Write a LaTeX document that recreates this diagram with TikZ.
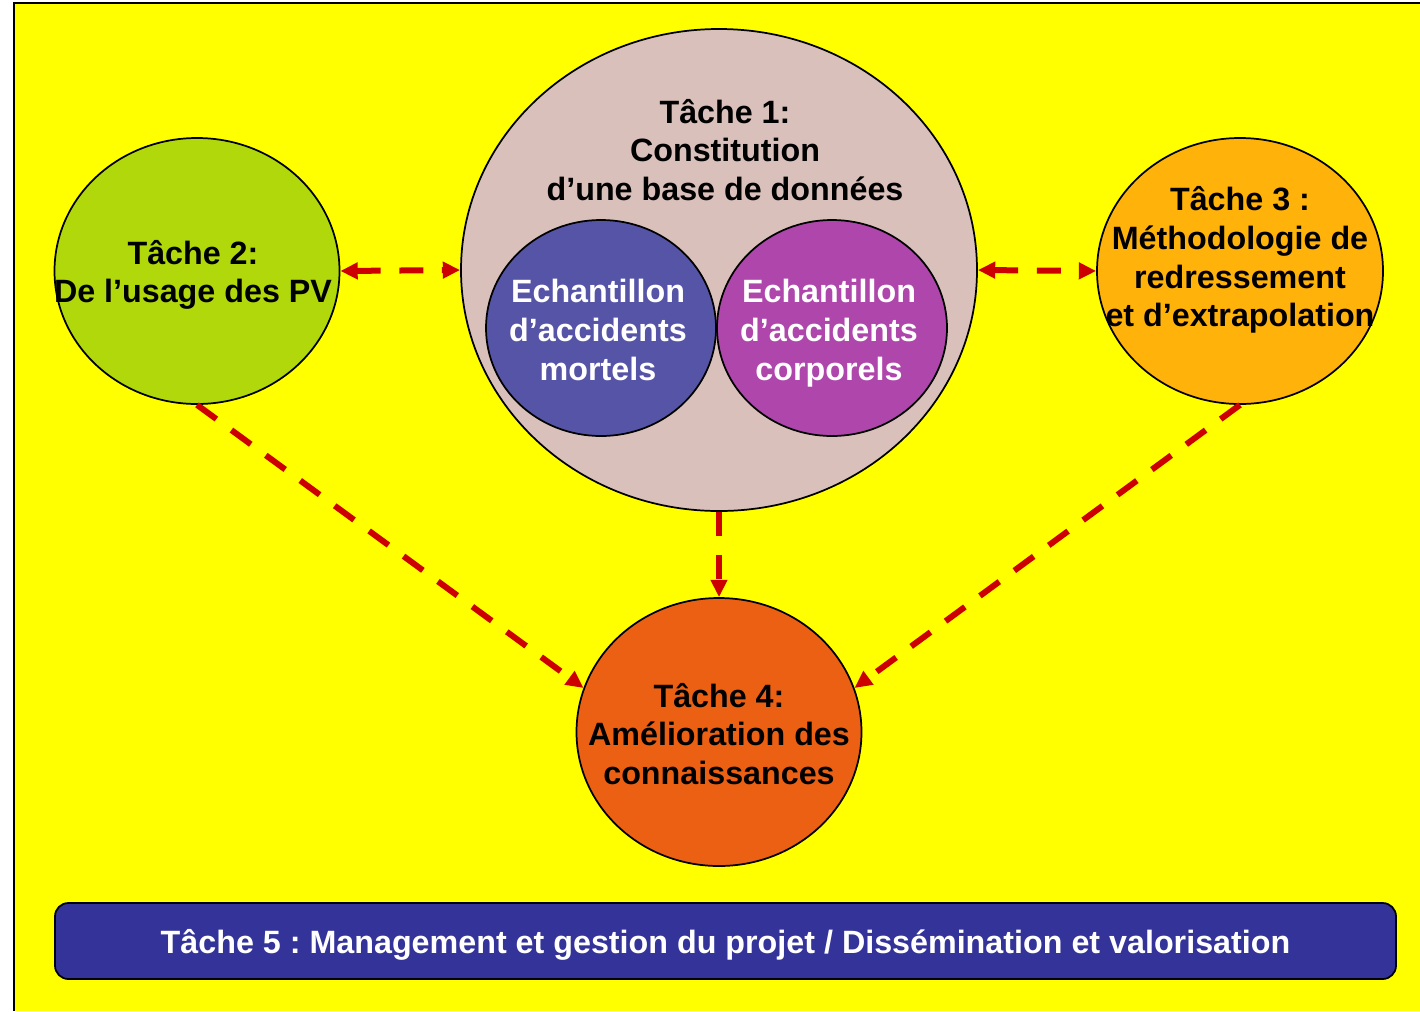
\documentclass[tikz,border=0pt]{standalone}
\usepackage{fontspec}
\setmainfont{Liberation Sans}
\frenchspacing
\usetikzlibrary{shapes.geometric,arrows.meta}

\definecolor{bgyellow}{RGB}{255,255,0}
\definecolor{tone}{RGB}{218,192,186}
\definecolor{ttwo}{RGB}{176,216,10}
\definecolor{tthree}{RGB}{255,178,10}
\definecolor{tfour}{RGB}{236,96,20}
\definecolor{mortel}{RGB}{86,84,166}
\definecolor{corporel}{RGB}{174,70,172}
\definecolor{tfive}{RGB}{51,51,153}
\definecolor{linkred}{RGB}{204,0,0}

\newcommand{\tasksize}{\fontsize{24.2}{29}\selectfont\bfseries}

\tikzset{every picture/.style={line width=0.75pt}}
\tikzset{
  task/.style={ellipse, draw=black, line width=1.3pt, inner sep=0pt},
  tasktitle/.style={inner sep=0.75pt, align=center, font=\tasksize},
  link/.style={draw=linkred, line width=4.5pt, dash pattern=on 18pt off 14pt},
}

\begin{document}
\begin{tikzpicture}[x=0.75pt,y=0.75pt,yscale=-1,xscale=1, >={Triangle[length=13pt,width=12pt]}]
\useasboundingbox (0,0) rectangle (1420,1011);

%Background frame
\fill [bgyellow] (14,3) rectangle (1420,1011);
\draw [line width=1.5pt] (1420,3) -- (14,3) -- (14,1011);

%Shape: Circle, Tache 1
\node [task, fill=tone, minimum width=387pt, minimum height=361.5pt] (t1) at (719,270) {};
% Text Node
\node [tasktitle] (t1title) at (725,150) {Tâche 1:\\Constitution\\d’une base de données};
%Shape: Circle, inner samples
\node [task, fill=mortel, minimum width=172.5pt, minimum height=162pt] (mortels) at (601,328) {};
\node [task, fill=corporel, minimum width=172.5pt, minimum height=162pt] (corporels) at (832,328) {};
% Text Node
\node [tasktitle, text=white] (mortelstext) at (598,330) {Echantillon\\d’accidents\\mortels};
\node [tasktitle, text=white] (corporelstext) at (829,333) {Echantillon\\d’accidents\\corporels};

%Shape: Circle, Tache 2
\node [task, fill=ttwo, minimum width=213.75pt, minimum height=199.5pt] (t2) at (197,271) {};
% Text Node
\node [tasktitle] (t2title) at (193,275) {Tâche 2:\\De l’usage des PV};
%Shape: Circle, Tache 3
\node [task, fill=tthree, minimum width=214.5pt, minimum height=199.5pt] (t3) at (1240,271) {};
% Text Node
\node [tasktitle] (t3title) at (1240,260) {Tâche 3 :\\Méthodologie de\\redressement\\et d’extrapolation};
%Shape: Circle, Tache 4
\node [task, fill=tfour, minimum width=213.75pt, minimum height=201pt] (t4) at (719,732) {};
% Text Node
\node [tasktitle] (t4title) at (719,734) {Tâche 4:\\Amélioration des\\connaissances};

%Rounded box, Tache 5
\node [draw=black, line width=1.3pt, rounded corners=10pt, fill=tfive, text=white, font=\tasksize, text height=24pt, text depth=5pt, minimum width=1005.75pt, minimum height=57pt] (t5) at (725.5,941) {Tâche 5 : Management et gestion du projet / Dissémination et valorisation};

%Dashed links
\draw [link, <->] (t2.east) -- (t1.west);
\draw [link, <->] (t1.east) -- (t3.west);
\draw [link, ->] (t1.south) -- (t4.north);
\draw [link, ->] (t2.south) -- (t4.162);
\draw [link, ->] (t3.south) -- (t4.18);

\end{tikzpicture}
\end{document}
